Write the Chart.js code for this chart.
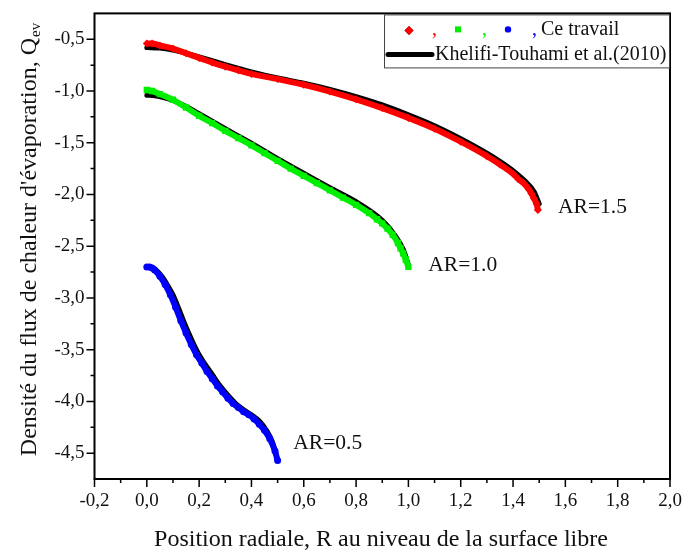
<!DOCTYPE html>
<html>
<head>
<meta charset="utf-8">
<script src="https://cdn.jsdelivr.net/npm/chart.js@4.4.1/dist/chart.umd.min.js"></script>
<style>
  body { margin: 0; background: #fff; }
  #wrap { width: 686px; height: 551px; }
</style>
</head>
<body>
<div id="wrap"><canvas id="qevChart" width="686" height="551"></canvas></div>
<script>
// values (R, Qev)

// Ce travail, AR=1.5
const rCe15 = [0, 0.02, 0.05, 0.1, 0.15, 0.2, 0.25, 0.3, 0.35, 0.4, 0.5, 0.6, 0.7, 0.8, 0.9, 1.0, 1.1, 1.2, 1.3, 1.35, 1.4, 1.42, 1.44, 1.46, 1.47, 1.48, 1.49, 1.495];
const qCe15 = [-0.54, -0.54, -0.56, -0.59, -0.635, -0.68, -0.725, -0.765, -0.80, -0.835, -0.885, -0.94, -1.005, -1.08, -1.165, -1.26, -1.365, -1.49, -1.63, -1.71, -1.80, -1.85, -1.89, -1.95, -1.99, -2.04, -2.09, -2.15];

// Ce travail, AR=1.0
const rCe10 = [0, 0.02, 0.05, 0.1, 0.15, 0.2, 0.25, 0.3, 0.35, 0.4, 0.45, 0.5, 0.55, 0.6, 0.65, 0.7, 0.75, 0.8, 0.85, 0.88, 0.9, 0.92, 0.94, 0.96, 0.97, 0.98, 0.99, 1.0];
const qCe10 = [-0.99, -1.0, -1.03, -1.085, -1.16, -1.24, -1.31, -1.385, -1.455, -1.525, -1.60, -1.675, -1.75, -1.82, -1.89, -1.96, -2.03, -2.10, -2.18, -2.24, -2.28, -2.33, -2.39, -2.47, -2.52, -2.57, -2.63, -2.70];

// Ce travail, AR=0.5
const rCe05 = [0, 0.01, 0.02, 0.03, 0.05, 0.07, 0.09, 0.11, 0.13, 0.15, 0.17, 0.19, 0.21, 0.23, 0.25, 0.27, 0.29, 0.31, 0.33, 0.35, 0.37, 0.39, 0.41, 0.43, 0.45, 0.47, 0.49, 0.5];
const qCe05 = [-2.70, -2.70, -2.71, -2.73, -2.79, -2.87, -2.97, -3.09, -3.22, -3.34, -3.45, -3.55, -3.63, -3.71, -3.78, -3.85, -3.91, -3.97, -4.02, -4.06, -4.10, -4.13, -4.17, -4.22, -4.28, -4.36, -4.48, -4.57];

// Khelifi-Touhami et al.(2010)
const rKh15 = [0, 0.05, 0.1, 0.15, 0.2, 0.3, 0.4, 0.5, 0.6, 0.7, 0.8, 0.9, 1.0, 1.1, 1.2, 1.3, 1.35, 1.4, 1.45, 1.48, 1.5];
const qKh15 = [-0.58, -0.585, -0.605, -0.635, -0.67, -0.745, -0.815, -0.875, -0.925, -0.985, -1.055, -1.135, -1.23, -1.335, -1.46, -1.60, -1.68, -1.77, -1.88, -1.97, -2.09];

const rKh10 = [0, 0.03, 0.06, 0.1, 0.15, 0.2, 0.3, 0.4, 0.5, 0.6, 0.7, 0.8, 0.9, 0.95, 0.98, 1.0];
const qKh10 = [-1.04, -1.045, -1.06, -1.09, -1.15, -1.22, -1.365, -1.505, -1.655, -1.795, -1.935, -2.07, -2.25, -2.40, -2.53, -2.68];

const rKh05 = [0, 0.02, 0.04, 0.06, 0.08, 0.1, 0.12, 0.14, 0.16, 0.18, 0.2, 0.22, 0.25, 0.28, 0.31, 0.34, 0.37, 0.4, 0.43, 0.46, 0.48, 0.5];
const qKh05 = [-2.70, -2.705, -2.74, -2.80, -2.88, -2.97, -3.09, -3.22, -3.34, -3.45, -3.55, -3.63, -3.74, -3.85, -3.94, -4.02, -4.08, -4.13, -4.19, -4.29, -4.39, -4.57];

// axes
const xMajorTicks = [-0.2, 0, 0.2, 0.4, 0.6, 0.8, 1.0, 1.2, 1.4, 1.6, 1.8, 2.0];
const xMinorTicks = [-0.1, 0.1, 0.3, 0.5, 0.7, 0.9, 1.1, 1.3, 1.5, 1.7, 1.9];
const yMajorTicks = [-0.5, -1.0, -1.5, -2.0, -2.5, -3.0, -3.5, -4.0, -4.5];
const yMinorTicks = [-0.75, -1.25, -1.75, -2.25, -2.75, -3.25, -3.75, -4.25];

// curve labels
const arLabels = ['AR=1.5', 'AR=1.0', 'AR=0.5'];
const arLabelR = [1.572, 1.076, 0.56];
const arLabelQ = [-2.12, -2.69, -4.41];

const SERIF = "'Liberation Serif', 'Times New Roman', serif";

function toPoints(xs, ys) {
    return xs.map((x, i) => ({ x: x, y: ys[i] }));
}

function commaLabel(v) {
    return v.toFixed(1).replace('.', ',');
}

function markerSeries(xs, ys, color, style, radius) {
    return {
        data: toPoints(xs, ys),
        showLine: true,
        borderColor: color,
        borderWidth: 6,
        cubicInterpolationMode: 'monotone',
        pointStyle: style,
        pointRadius: radius,
        pointBackgroundColor: color,
        pointBorderWidth: 0,
        pointHoverRadius: radius
    };
}

function refSeries(xs, ys) {
    return {
        data: toPoints(xs, ys),
        showLine: true,
        borderColor: '#000',
        borderWidth: 5,
        borderCapStyle: 'round',
        cubicInterpolationMode: 'monotone',
        pointRadius: 0
    };
}

// frame, ticks, titles, curve labels and legend
const decorations = {
    id: 'decorations',
    afterDraw(chart) {
        const { ctx, chartArea: a, scales: { x, y } } = chart;
        ctx.save();

        ctx.strokeStyle = '#000';
        ctx.lineWidth = 2;
        ctx.strokeRect(a.left, a.top, a.right - a.left, a.bottom - a.top);

        ctx.lineWidth = 1.5;
        ctx.beginPath();
        xMajorTicks.forEach(v => { const p = x.getPixelForValue(v); ctx.moveTo(p, a.bottom); ctx.lineTo(p, a.bottom + 8); });
        xMinorTicks.forEach(v => { const p = x.getPixelForValue(v); ctx.moveTo(p, a.bottom); ctx.lineTo(p, a.bottom + 4); });
        yMajorTicks.forEach(v => { const p = y.getPixelForValue(v); ctx.moveTo(a.left, p); ctx.lineTo(a.left - 8, p); });
        yMinorTicks.forEach(v => { const p = y.getPixelForValue(v); ctx.moveTo(a.left, p); ctx.lineTo(a.left - 4, p); });
        ctx.stroke();

        ctx.fillStyle = '#111';

        // x title
        ctx.font = '24px ' + SERIF;
        ctx.textAlign = 'center';
        ctx.textBaseline = 'alphabetic';
        ctx.fillText('Position radiale, R au niveau de la surface libre', 381, 546);

        // y title with subscript
        const main = "Densité du flux de chaleur d'évaporation, Q";
        ctx.font = '24px ' + SERIF;
        const wMain = ctx.measureText(main).width;
        ctx.font = '15px ' + SERIF;
        const wSub = ctx.measureText('ev').width;
        ctx.translate(36, 240);
        ctx.rotate(-Math.PI / 2);
        ctx.textAlign = 'left';
        const start = -(wMain + wSub) / 2;
        ctx.font = '24px ' + SERIF;
        ctx.fillText(main, start, 0);
        ctx.font = '15px ' + SERIF;
        ctx.fillText('ev', start + wMain + 1, 4);
        ctx.setTransform(1, 0, 0, 1, 0, 0);

        // AR labels
        ctx.font = '21.5px ' + SERIF;
        ctx.textAlign = 'left';
        ctx.textBaseline = 'middle';
        arLabels.forEach((t, i) => {
            ctx.fillText(t, x.getPixelForValue(arLabelR[i]), y.getPixelForValue(arLabelQ[i]));
        });

        // legend box
        const L = a.right - 286, T = a.top + 1;
        ctx.strokeStyle = '#444';
        ctx.lineWidth = 1;
        ctx.strokeRect(L + 0.5, T + 0.5, 285, 53);

        Chart.helpers.drawPoint(ctx, { pointStyle: 'rectRot', radius: 4.5, borderWidth: 0 }, L + 25, T + 16);
        ctx.fillStyle = '#ff0000';
        ctx.fill();
        ctx.fillStyle = '#00ee00';
        ctx.fillRect(L + 71, T + 12, 6, 6);
        ctx.fillStyle = '#0000ff';
        ctx.beginPath();
        ctx.arc(L + 124, T + 15, 3.2, 0, Math.PI * 2);
        ctx.fill();

        ctx.font = '20px ' + SERIF;
        ctx.textBaseline = 'alphabetic';
        ctx.fillStyle = '#ff0000';
        ctx.fillText(',', L + 48, T + 21);
        ctx.fillStyle = '#00ee00';
        ctx.fillText(',', L + 98, T + 21);
        ctx.fillStyle = '#0000ff';
        ctx.fillText(',', L + 148, T + 21);
        ctx.fillStyle = '#111';
        ctx.fillText('Ce travail', L + 157, T + 21);

        ctx.strokeStyle = '#000';
        ctx.lineWidth = 5;
        ctx.lineCap = 'round';
        ctx.beginPath();
        ctx.moveTo(L + 4, T + 40);
        ctx.lineTo(L + 48, T + 40);
        ctx.stroke();
        ctx.fillText('Khelifi-Touhami et al.(2010)', L + 51, T + 46);

        ctx.restore();
    }
};

const ctx = document.getElementById('qevChart').getContext('2d');
const qevChart = new Chart(ctx, {
    type: 'scatter',
    data: {
        datasets: [
            markerSeries(rCe15, qCe15, '#ff0000', 'rectRot', 4),
            markerSeries(rCe10, qCe10, '#00ee00', 'rect', 4.5),
            markerSeries(rCe05, qCe05, '#0000ff', 'circle', 3.5),
            refSeries(rKh15, qKh15),
            refSeries(rKh10, qKh10),
            refSeries(rKh05, qKh05)
        ]
    },
    options: {
        responsive: false,
        animation: false,
        devicePixelRatio: 1,
        layout: { padding: { left: 0, right: 16, top: 11, bottom: 0 } },
        plugins: {
            legend: { display: false },
            tooltip: { enabled: false }
        },
        scales: {
            x: {
                type: 'linear',
                min: -0.2,
                max: 2.0,
                afterBuildTicks: scale => { scale.ticks = xMajorTicks.map(v => ({ value: v })); },
                afterFit: scale => { scale.height = 72; },
                grid: { display: false, drawTicks: true, tickLength: 8 },
                border: { display: false },
                ticks: {
                    color: '#111',
                    padding: 3,
                    maxRotation: 0,
                    autoSkip: false,
                    font: { family: SERIF, size: 19 },
                    callback: v => commaLabel(v)
                }
            },
            y: {
                type: 'linear',
                min: -4.75,
                max: -0.25,
                afterBuildTicks: scale => { scale.ticks = yMajorTicks.map(v => ({ value: v })); },
                afterFit: scale => { scale.width = 94.5; },
                grid: { display: false, drawTicks: true, tickLength: 8 },
                border: { display: false },
                ticks: {
                    color: '#111',
                    padding: 2,
                    autoSkip: false,
                    font: { family: SERIF, size: 19 },
                    callback: v => commaLabel(v)
                }
            }
        }
    },
    plugins: [decorations]
});
console.log('Chart instance:', qevChart);
</script>
</body>
</html>
